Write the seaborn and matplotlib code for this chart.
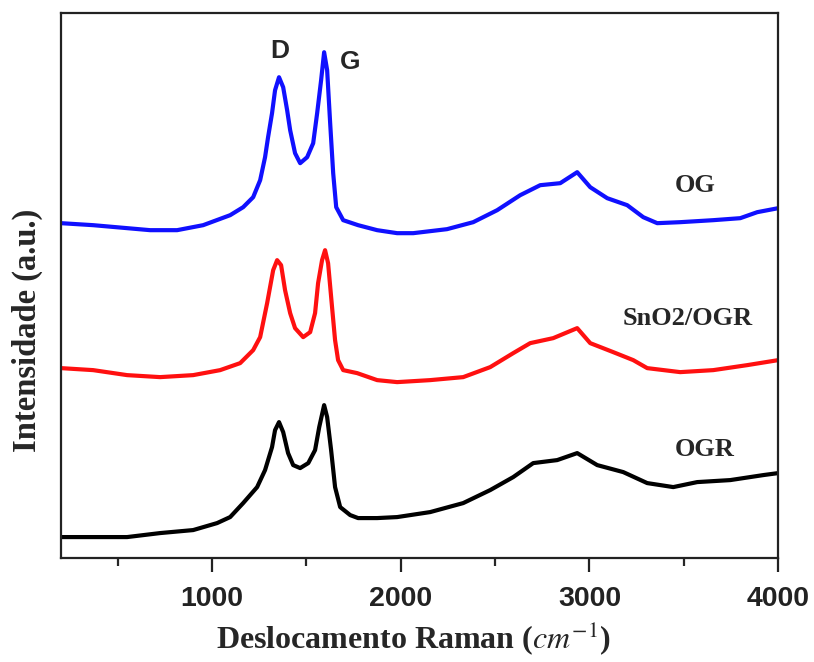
import numpy as np
import pandas as pd
import seaborn as sns
import matplotlib
matplotlib.use("Agg")
import matplotlib.pyplot as plt

# Raman spectra (intensity in arbitrary units, curves offset vertically)
og_shift = [200, 370, 672, 815, 953, 1096, 1165, 1218, 1255, 1281, 1297, 1318, 1334,
            1355, 1377, 1398, 1414, 1440, 1467, 1504, 1536, 1557, 1578, 1594, 1610,
            1626, 1642, 1658, 1695, 1774, 1875, 1981, 2066, 2245, 2384, 2511, 2633,
            2739, 2845, 2935, 3004, 3094, 3200, 3285, 3359, 3481, 3656, 3799, 3889,
            4000]
og_int = [335, 333, 328, 328, 333, 343, 351, 361, 378, 401, 421, 445, 468,
          481, 471, 448, 428, 405, 395, 401, 415, 445, 478, 506, 488,
          435, 385, 351, 338, 333, 328, 325, 325, 329, 336, 348, 363,
          373, 375, 386, 371, 360, 353, 341, 335, 336, 338, 340, 346,
          350]

sno2_shift = [200, 370, 550, 725, 900, 1043, 1149, 1218, 1255, 1292, 1324, 1345, 1366,
              1387, 1414, 1440, 1483, 1520, 1546, 1562, 1583, 1599, 1615, 1636, 1652,
              1668, 1695, 1769, 1875, 1981, 2156, 2331, 2474, 2596, 2686, 2808, 2935,
              3004, 3126, 3232, 3306, 3481, 3656, 3836, 4000]
sno2_int = [190, 188, 183, 181, 183, 188, 195, 208, 221, 255, 288, 298, 293,
            268, 245, 230, 221, 226, 245, 275, 298, 308, 295, 251, 218,
            198, 188, 185, 178, 176, 178, 181, 191, 205, 215, 220, 230,
            215, 206, 198, 190, 186, 188, 193, 198]

ogr_shift = [200, 370, 550, 725, 900, 1027, 1096, 1165, 1239, 1281, 1318, 1334, 1355,
             1377, 1403, 1430, 1467, 1510, 1546, 1568, 1594, 1610, 1631, 1652, 1679,
             1732, 1774, 1875, 1981, 2156, 2331, 2474, 2596, 2702, 2829, 2935, 3041,
             3179, 3306, 3444, 3571, 3746, 3921, 4000]
ogr_int = [21, 21, 21, 25, 28, 35, 41, 55, 71, 88, 111, 128, 136,
           126, 105, 93, 90, 95, 108, 131, 153, 141, 108, 71, 51,
           43, 40, 40, 41, 46, 55, 68, 81, 95, 98, 105, 93,
           86, 75, 71, 76, 78, 83, 85]

samples = ["OG", "SnO2/OGR", "OGR"]
colors = {"OG": "#1010ff", "SnO2/OGR": "#ff1010", "OGR": "#000000"}
xticks_major = [1000, 2000, 3000, 4000]
xticks_minor = [500, 1500, 2500, 3500]

df = pd.concat([
    pd.DataFrame({"shift": og_shift, "intensity": og_int, "sample": "OG"}),
    pd.DataFrame({"shift": sno2_shift, "intensity": sno2_int, "sample": "SnO2/OGR"}),
    pd.DataFrame({"shift": ogr_shift, "intensity": ogr_int, "sample": "OGR"}),
], ignore_index=True)

sns.set_style("white")
plt.rcParams["mathtext.fontset"] = "stix"
serif = ["Liberation Serif", "DejaVu Serif"]
sans = ["Liberation Sans", "DejaVu Sans"]

fig = plt.figure(figsize=(8.14, 6.62), dpi=100)
ax = fig.add_axes([0.075, 0.157, 0.881, 0.823])

sns.lineplot(data=df, x="shift", y="intensity", hue="sample", hue_order=samples,
             palette=colors, linewidth=3.0, legend=False, ax=ax, sort=False)
for line in ax.get_lines():
    line.set_solid_joinstyle("round")

ax.set_xlim(200, 4000)
ax.set_ylim(0, 545)
ax.set_xticks(xticks_major)
ax.set_xticks(xticks_minor, minor=True)
ax.set_yticks([])
ax.tick_params(axis="x", which="major", direction="out", length=10, width=1.6,
               bottom=True, pad=10, labelsize=20.5, colors="#222222")
ax.tick_params(axis="x", which="minor", direction="out", length=6, width=1.6,
               bottom=True)
for lab in ax.get_xticklabels():
    lab.set_family(sans)
    lab.set_fontweight("bold")

for sp in ax.spines.values():
    sp.set_visible(True)
    sp.set_linewidth(1.6)
    sp.set_color("#222222")

ax.set_xlabel(r"Deslocamento Raman ($cm^{-1}$)", family=serif, fontweight="bold",
              fontsize=23)
ax.xaxis.set_label_coords(0.492, -0.112)
ax.set_ylabel("Intensidade (a.u.)", family=serif, fontweight="bold", fontsize=23.5)
ax.yaxis.set_label_coords(-0.025, 0.418)

# Band labels
ax.text(1361, 507, "D", family=sans, fontweight="bold", fontsize=19,
        ha="center", va="center")
ax.text(1732, 496, "G", family=sans, fontweight="bold", fontsize=19,
        ha="center", va="center")

# Sample labels
ax.text(3560, 373, "OG", family=serif, fontweight="bold", fontsize=19,
        ha="center", va="center")
ax.text(3523, 240, "SnO2/OGR", family=serif, fontweight="bold", fontsize=19,
        ha="center", va="center")
ax.text(3613, 109, "OGR", family=serif, fontweight="bold", fontsize=19,
        ha="center", va="center")

fig.savefig("out.png", dpi=100)
